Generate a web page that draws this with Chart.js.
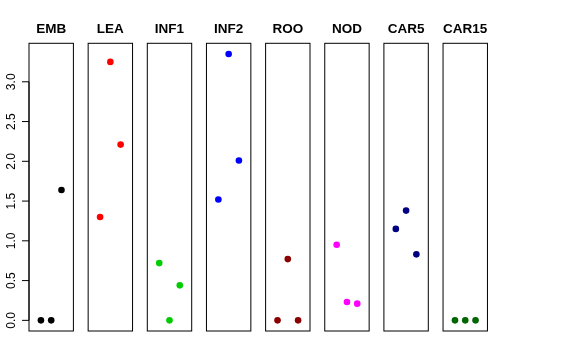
<!DOCTYPE html>
<html>
<head>
<meta charset="utf-8">
<script src="https://cdn.jsdelivr.net/npm/chart.js@4"></script>
<style>
  html, body { margin: 0; padding: 0; background: #fff; }
  #wrap { position: relative; width: 576px; height: 360px; overflow: hidden; }
  #wrap canvas { position: absolute; top: 0; }
</style>
</head>
<body>
<div id="wrap"></div>
<script>
// panel names and colors
const panelNames = ['EMB', 'LEA', 'INF1', 'INF2', 'ROO', 'NOD', 'CAR5', 'CAR15'];
const panelColors = ['#000000', '#FF0000', '#00CD00', '#0000FF', '#8B0000', '#FF00FF', '#000080', '#006400'];

// three samples per panel (x = 1, 2, 3)
const xPos = [1, 2, 3];
const emb = [0, 0, 1.64];
const lea = [1.30, 3.25, 2.21];
const inf1 = [0.72, 0, 0.44];
const inf2 = [1.52, 3.35, 2.01];
const roo = [0, 0.77, 0];
const nod = [0.95, 0.23, 0.21];
const car5 = [1.15, 1.38, 0.83];
const car15 = [0, 0, 0];
const panelValues = [emb, lea, inf1, inf2, roo, nod, car5, car15];

// y axis tick labels (first panel only)
const yTicks = [0, 0.5, 1, 1.5, 2, 2.5, 3];
const yTickLabels = ['0.0', '0.5', '1.0', '1.5', '2.0', '2.5', '3.0'];

// layout of the boxes
const boxTop = 43.3, boxBottom = 331;
const boxW = 44.4;
const boxLeft = i => 29 + i * 59.15;

// 枠線・タイトル・目盛りを描くプラグイン
const panelDecor = {
    id: 'panelDecor',
    afterDraw(chart, args, opts) {
        const ctx = chart.ctx;
        const a = chart.chartArea;
        ctx.save();
        ctx.strokeStyle = '#000';
        ctx.lineWidth = 1;
        ctx.strokeRect(a.left, a.top, a.right - a.left, a.bottom - a.top);

        ctx.fillStyle = '#000';
        ctx.font = 'bold 13.5px "Liberation Sans", Arial, sans-serif';
        ctx.textAlign = 'center';
        ctx.textBaseline = 'alphabetic';
        ctx.fillText(opts.title, (a.left + a.right) / 2, 33.3);

        if (opts.showAxis) {
            const ys = chart.scales.y;
            ctx.font = '12px "Liberation Sans", Arial, sans-serif';
            yTicks.forEach((v, k) => {
                const py = ys.getPixelForValue(v);
                ctx.beginPath();
                ctx.moveTo(a.left, py);
                ctx.lineTo(a.left - 7, py);
                ctx.stroke();
                ctx.save();
                ctx.translate(14.8, py);
                ctx.rotate(-Math.PI / 2);
                ctx.textAlign = 'center';
                ctx.textBaseline = 'alphabetic';
                ctx.fillText(yTickLabels[k], 0, 0);
                ctx.restore();
            });
            // axis line from 0 to 3
            ctx.beginPath();
            ctx.moveTo(a.left, ys.getPixelForValue(0));
            ctx.lineTo(a.left, ys.getPixelForValue(3));
            ctx.stroke();
        }
        ctx.restore();
    }
};

const wrap = document.getElementById('wrap');

panelNames.forEach((name, i) => {
    const bl = boxLeft(i);
    const br = bl + boxW;
    const cl = i === 0 ? 0 : Math.floor(bl - 6);
    const cr = Math.ceil(br + 6);
    const canvas = document.createElement('canvas');
    canvas.width = cr - cl;
    canvas.height = 360;
    canvas.style.left = cl + 'px';
    canvas.style.width = (cr - cl) + 'px';
    canvas.style.height = '360px';
    wrap.appendChild(canvas);

    new Chart(canvas.getContext('2d'), {
        type: 'scatter',
        data: {
            datasets: [{
                data: xPos.map((x, k) => ({ x: x, y: panelValues[i][k] })),
                backgroundColor: panelColors[i],
                borderWidth: 0,
                pointRadius: 3.3,
                pointHoverRadius: 3.3
            }]
        },
        options: {
            responsive: false,
            animation: false,
            devicePixelRatio: 1,
            layout: {
                padding: {
                    left: bl - cl,
                    right: cr - br,
                    top: boxTop,
                    bottom: 360 - boxBottom
                }
            },
            scales: {
                x: { type: 'linear', display: false, min: -0.16, max: 4.16 },
                y: { type: 'linear', display: false, min: -0.134, max: 3.484 }
            },
            plugins: {
                legend: { display: false },
                tooltip: { enabled: false },
                panelDecor: { title: name, showAxis: i === 0 }
            }
        },
        plugins: [panelDecor]
    });
});
</script>
</body>
</html>
